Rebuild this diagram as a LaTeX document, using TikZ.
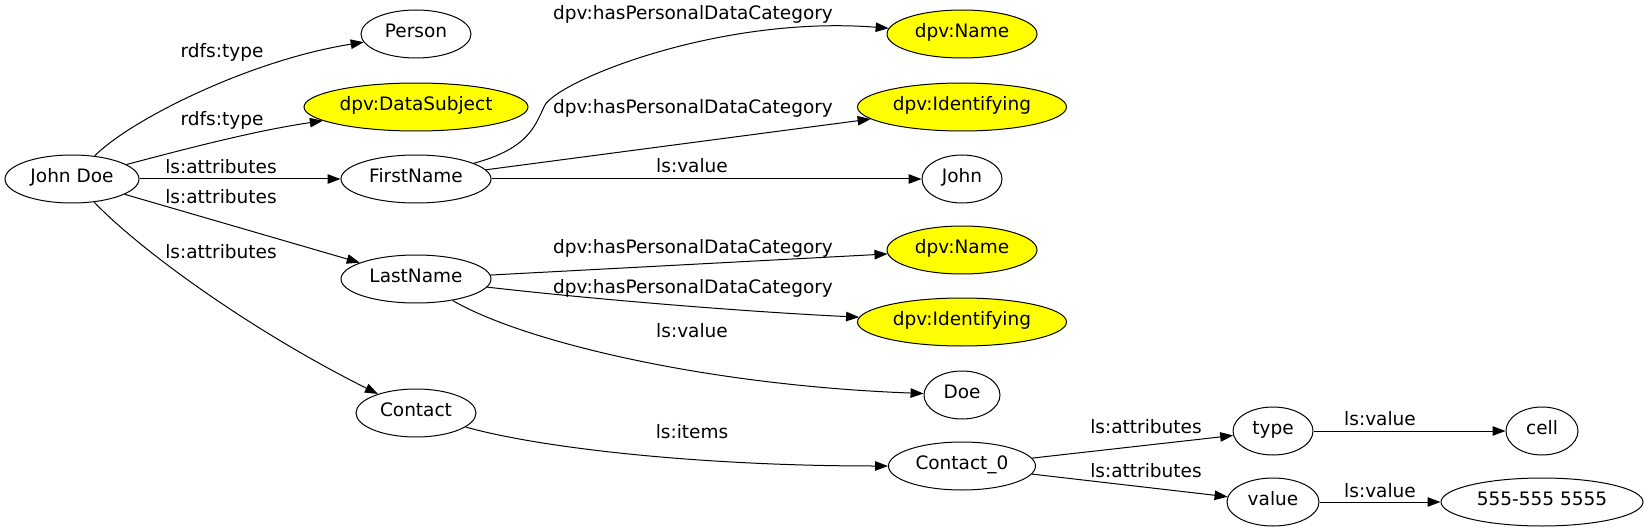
\documentclass[tikz,border=0pt]{standalone}
\usepackage{fontspec}
\setmainfont{DejaVu Sans}
\usetikzlibrary{arrows.meta,shapes.geometric}
\definecolor{gvyellow}{HTML}{FFFF00}
\begin{document}
\begin{tikzpicture}[x=1pt,y=-1pt,
  every node/.style={font=\fontsize{18.5}{22}\selectfont, text height=12.5pt, text depth=5pt},
  gnode/.style={draw, ellipse, line width=1pt, inner sep=0pt, minimum height=48pt},
  hl/.style={gnode, fill=gvyellow},
  lbl/.style={inner sep=0pt, yshift=-1.5pt},
  edge/.style={draw, line width=1pt, -{Triangle[length=13pt,width=9.5pt]}}]
\useasboundingbox (0,0) rectangle (1647,532);
% nodes
\node[gnode, minimum width=134pt] (jd) at (72,179) {John Doe};
\node[gnode, minimum width=110pt] (person) at (416,34) {Person};
\node[hl, minimum width=224pt] (ds) at (416,107) {dpv:DataSubject};
\node[gnode, minimum width=150pt] (fn) at (416,179) {FirstName};
\node[gnode, minimum width=150pt] (ln) at (416,279) {LastName};
\node[gnode, minimum width=120pt] (contact) at (416,413) {Contact};
\node[hl, minimum width=150pt] (nm1) at (962,34) {dpv:Name};
\node[hl, minimum width=209pt] (id1) at (962,107) {dpv:Identifying};
\node[gnode, minimum width=80pt] (john) at (962,179) {John};
\node[hl, minimum width=150pt] (nm2) at (962,250) {dpv:Name};
\node[hl, minimum width=209pt] (id2) at (962,322) {dpv:Identifying};
\node[gnode, minimum width=76pt] (doe) at (962,395) {Doe};
\node[gnode, minimum width=147pt] (c0) at (962,466) {Contact\_0};
\node[gnode, minimum width=80pt] (type) at (1273,431) {type};
\node[gnode, minimum width=92pt] (value) at (1273,502) {value};
\node[gnode, minimum width=72pt] (cell) at (1542,431) {cell};
\node[gnode, minimum width=202pt] (num) at (1542,502) {555-555 5555};
% edges
\draw[edge] (jd) .. controls (130,120) and (250,60) .. (person);
\draw[edge] (jd) .. controls (200,145) and (260,130) .. (ds);
\draw[edge] (jd) -- (fn);
\draw[edge] (jd) -- (ln);
\draw[edge] (jd) .. controls (140,250) and (250,330) .. (contact);
\draw[edge] (fn) .. controls (530,148) and (535,125) .. (545,105) .. controls (560,80) and (720,15) .. (nm1);
\draw[edge] (fn) -- (id1);
\draw[edge] (fn) -- (john);
\draw[edge] (ln) -- (nm2);
\draw[edge] (ln) .. controls (600,300) and (750,312) .. (id2);
\draw[edge] (ln) .. controls (520,340) and (700,385) .. (doe);
\draw[edge] (contact) .. controls (540,448) and (700,466) .. (c0);
\draw[edge] (c0) -- (type);
\draw[edge] (c0) -- (value);
\draw[edge] (type) -- (cell);
\draw[edge] (value) -- (num);
% labels
\node[lbl] (l1) at (222,52) {rdfs:type};
\node[lbl] (l2) at (222,120) {rdfs:type};
\node[lbl] (l3) at (221,168) {ls:attributes};
\node[lbl] (l4) at (221,198) {ls:attributes};
\node[lbl] (l5) at (221,253) {ls:attributes};
\node[lbl] (l6) at (693,14) {dpv:hasPersonalDataCategory};
\node[lbl] (l7) at (693,108) {dpv:hasPersonalDataCategory};
\node[lbl] (l8) at (692,167) {ls:value};
\node[lbl] (l9) at (693,248) {dpv:hasPersonalDataCategory};
\node[lbl] (l10) at (693,288) {dpv:hasPersonalDataCategory};
\node[lbl] (l11) at (692,332) {ls:value};
\node[lbl] (l12) at (692,433) {ls:items};
\node[lbl] (l13) at (1146,428) {ls:attributes};
\node[lbl] (l14) at (1146,472) {ls:attributes};
\node[lbl] (l15) at (1380,420) {ls:value};
\node[lbl] (l16) at (1380,492) {ls:value};
\end{tikzpicture}
\end{document}
